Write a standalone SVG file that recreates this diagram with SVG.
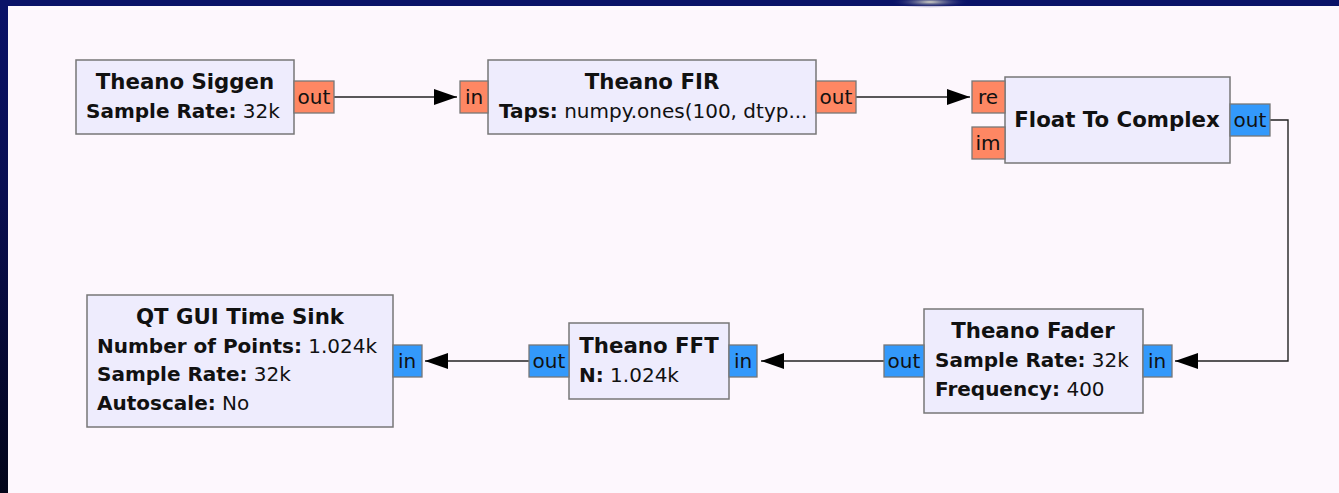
<svg xmlns="http://www.w3.org/2000/svg" width="1339" height="493" viewBox="0 0 1339 493">
<defs>
<style>
.blk{fill:#eeecfd;stroke:#777;stroke-width:1.5}
.pf{fill:#fe8763;stroke:#777;stroke-width:1.3}
.pc{fill:#3399fb;stroke:#777;stroke-width:1.3}
text{font-family:"DejaVu Sans","Noto Sans",sans-serif;font-size:20px;fill:#111}
.t{font-weight:bold;text-anchor:middle;font-size:21.3px}
.b{font-weight:bold}
.pt{text-anchor:middle}
.c{fill:none;stroke:#222;stroke-width:1.4}
</style>
<marker id="ah" markerUnits="userSpaceOnUse" markerWidth="24" markerHeight="18" refX="23" refY="8" orient="auto">
<path d="M0,0 L23,8 L0,16 z" fill="#000"/>
</marker>
<linearGradient id="lb" x1="0" y1="0" x2="0" y2="1">
<stop offset="0" stop-color="#0a1268"/>
<stop offset="0.4" stop-color="#0a0f50"/>
<stop offset="1" stop-color="#03051a"/>
</linearGradient>
<radialGradient id="glow" cx="0.5" cy="0.5" r="0.5">
<stop offset="0" stop-color="#d8d8c8"/>
<stop offset="1" stop-color="#0a1268" stop-opacity="0"/>
</radialGradient>
</defs>
<rect x="0" y="0" width="1339" height="493" fill="#fdf7fd"/>
<rect x="0" y="0" width="1339" height="6" fill="#0a1268"/>
<ellipse cx="930" cy="2" rx="40" ry="6" fill="url(#glow)"/>
<rect x="0" y="6" width="8" height="487" fill="url(#lb)"/>

<g id="connectors">
<path class="c" d="M334,97 H457" marker-end="url(#ah)"/>
<path class="c" d="M856,97 H970" marker-end="url(#ah)"/>
<path class="c" d="M1270,120 H1288 V361 H1175" marker-end="url(#ah)"/>
<path class="c" d="M884,361 H761" marker-end="url(#ah)"/>
<path class="c" d="M529,361 H425" marker-end="url(#ah)"/>
</g>

<g id="theano_siggen">
<rect class="blk" x="76" y="60" width="218" height="74"/>
<rect class="pf" x="294" y="81" width="40" height="32"/>
<text class="pt" x="314" y="104">out</text>
<text class="t" x="185" y="89">Theano Siggen</text>
<text x="86" y="118"><tspan class="b">Sample Rate:</tspan> 32k</text>
</g>

<g id="theano_fir">
<rect class="blk" x="488" y="60" width="328" height="74"/>
<rect class="pf" x="460" y="81" width="28" height="32"/>
<text class="pt" x="474" y="104">in</text>
<rect class="pf" x="816" y="81" width="40" height="32"/>
<text class="pt" x="836" y="104">out</text>
<text class="t" x="652" y="89">Theano FIR</text>
<text x="499" y="118"><tspan class="b">Taps:</tspan> numpy.ones(100, dtyp...</text>
</g>

<g id="float_to_complex">
<rect class="blk" x="1005" y="77" width="225" height="86"/>
<rect class="pf" x="972" y="81" width="33" height="32"/>
<text class="pt" x="988" y="104">re</text>
<rect class="pf" x="972" y="127" width="33" height="32"/>
<text class="pt" x="988" y="150">im</text>
<rect class="pc" x="1230" y="104" width="40" height="32"/>
<text class="pt" x="1250" y="127">out</text>
<text class="t" x="1117" y="127">Float To Complex</text>
</g>

<g id="theano_fader">
<rect class="blk" x="924" y="309" width="219" height="104"/>
<rect class="pc" x="884" y="345" width="40" height="32"/>
<text class="pt" x="904" y="368">out</text>
<rect class="pc" x="1143" y="345" width="29" height="32"/>
<text class="pt" x="1157" y="368">in</text>
<text class="t" x="1033" y="338">Theano Fader</text>
<text x="935" y="367"><tspan class="b">Sample Rate:</tspan> 32k</text>
<text x="935" y="396"><tspan class="b">Frequency:</tspan> 400</text>
</g>

<g id="theano_fft">
<rect class="blk" x="569" y="323" width="160" height="76"/>
<rect class="pc" x="529" y="345" width="40" height="32"/>
<text class="pt" x="549" y="368">out</text>
<rect class="pc" x="729" y="345" width="28" height="32"/>
<text class="pt" x="743" y="368">in</text>
<text class="t" x="649" y="353">Theano FFT</text>
<text x="579" y="382"><tspan class="b">N:</tspan> 1.024k</text>
</g>

<g id="qt_gui_time_sink">
<rect class="blk" x="87" y="295" width="306" height="132"/>
<rect class="pc" x="393" y="345" width="29" height="32"/>
<text class="pt" x="407" y="368">in</text>
<text class="t" x="240" y="324">QT GUI Time Sink</text>
<text x="97" y="353"><tspan class="b">Number of Points:</tspan> 1.024k</text>
<text x="97" y="381"><tspan class="b">Sample Rate:</tspan> 32k</text>
<text x="97" y="410"><tspan class="b">Autoscale:</tspan> No</text>
</g>
</svg>
